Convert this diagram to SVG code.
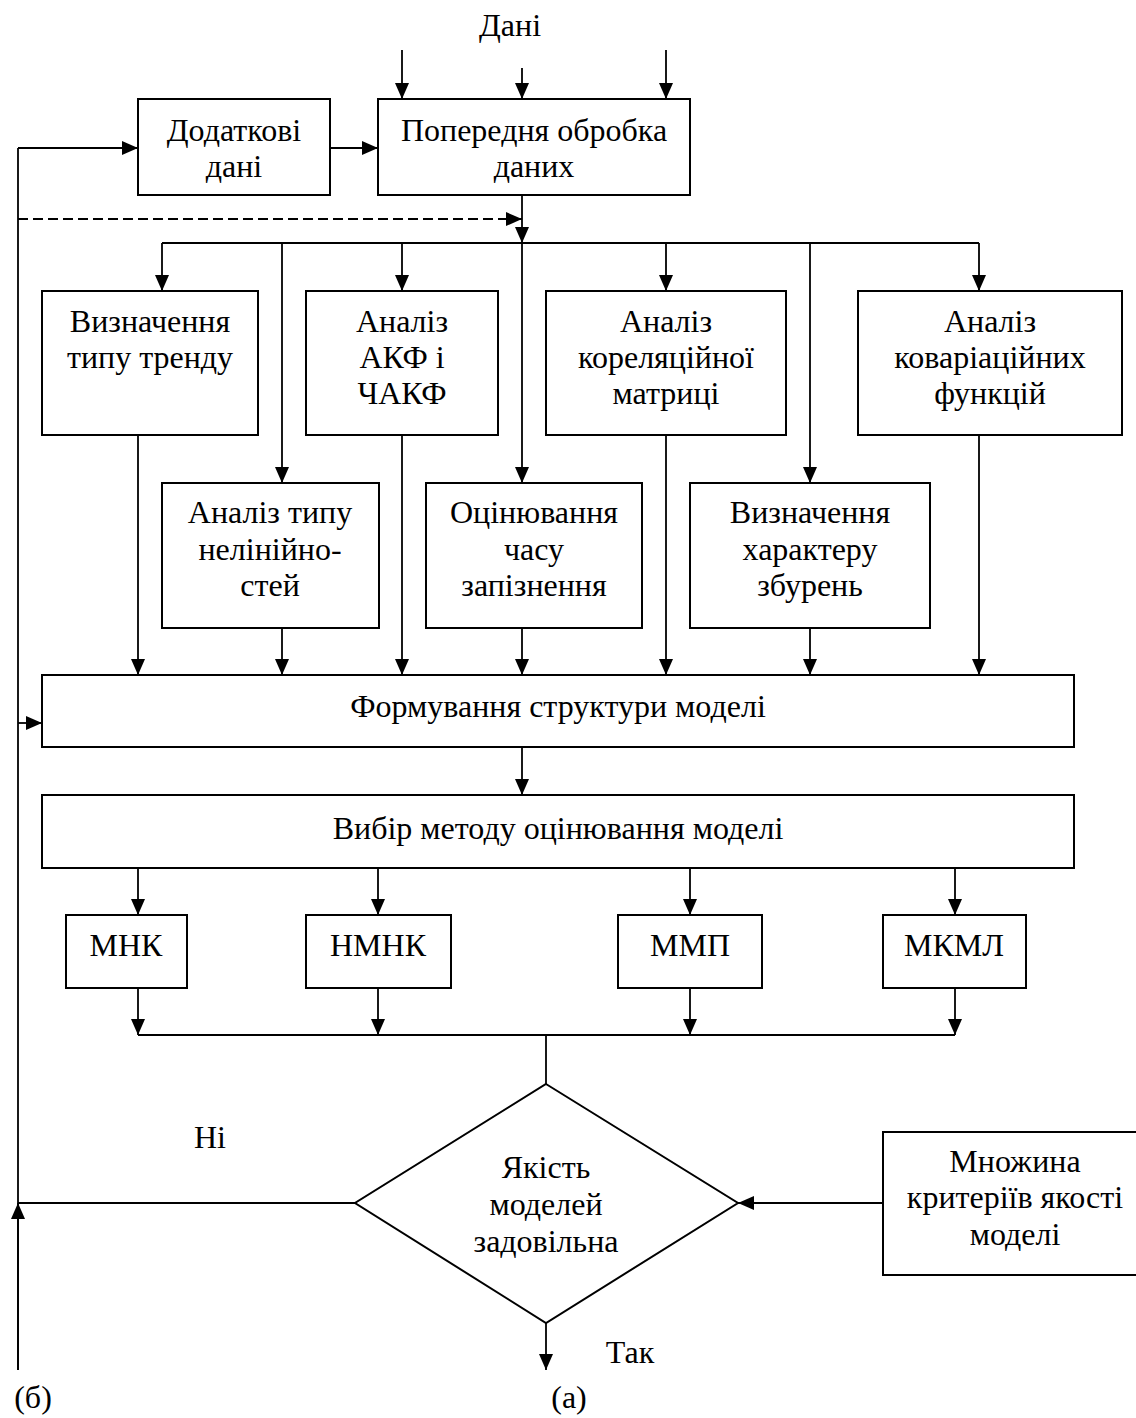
<svg xmlns="http://www.w3.org/2000/svg" width="1136" height="1418" viewBox="0 0 1136 1418">
<style>
.box{fill:#fff;stroke:#000;stroke-width:2}
.ln{fill:none;stroke:#000;stroke-width:1.8}
.ar{fill:none;stroke:#000;stroke-width:1.8;marker-end:url(#ah)}
.t{font-family:"Liberation Serif","Times New Roman",serif;font-size:32px;fill:#000;text-anchor:middle}
</style>
<defs>
<marker id="ah" viewBox="0 0 16 14" refX="16" refY="7" markerWidth="16" markerHeight="14" markerUnits="userSpaceOnUse" orient="auto">
<path d="M0,0 L16,7 L0,14 z" fill="#000"/>
</marker>
</defs>
<rect width="1136" height="1418" fill="#fff"/>

<g id="connectors">
<!-- input data -->
<line class="ar" x1="402" y1="50" x2="402" y2="99"/>
<line class="ar" x1="522" y1="68" x2="522" y2="99"/>
<line class="ar" x1="666" y1="50" x2="666" y2="99"/>
<!-- feedback left line -->
<polyline class="ln" points="18,1370 18,148"/>
<line class="ar" x1="18" y1="1370" x2="18" y2="1203"/>
<line class="ar" x1="18" y1="148" x2="138" y2="148"/>
<line class="ar" x1="330" y1="148" x2="378" y2="148"/>
<line class="ar" x1="18" y1="219" x2="522" y2="219" stroke-dasharray="10,5"/>
<line class="ar" x1="18" y1="723" x2="42" y2="723"/>
<!-- preprocessing to bus -->
<line class="ar" x1="522" y1="195" x2="522" y2="243"/>
<line class="ln" x1="162" y1="243" x2="979" y2="243"/>
<line class="ar" x1="162" y1="243" x2="162" y2="291"/>
<line class="ar" x1="282" y1="243" x2="282" y2="483"/>
<line class="ar" x1="402" y1="243" x2="402" y2="291"/>
<line class="ar" x1="522" y1="243" x2="522" y2="483"/>
<line class="ar" x1="666" y1="243" x2="666" y2="291"/>
<line class="ar" x1="810" y1="243" x2="810" y2="483"/>
<line class="ar" x1="979" y1="243" x2="979" y2="291"/>
<!-- analyses to structure -->
<line class="ar" x1="138" y1="435" x2="138" y2="675"/>
<line class="ar" x1="282" y1="628" x2="282" y2="675"/>
<line class="ar" x1="402" y1="435" x2="402" y2="675"/>
<line class="ar" x1="522" y1="628" x2="522" y2="675"/>
<line class="ar" x1="666" y1="435" x2="666" y2="675"/>
<line class="ar" x1="810" y1="628" x2="810" y2="675"/>
<line class="ar" x1="979" y1="435" x2="979" y2="675"/>
<!-- structure to method choice -->
<line class="ar" x1="522" y1="747" x2="522" y2="795"/>
<!-- methods -->
<line class="ar" x1="138" y1="868" x2="138" y2="915"/>
<line class="ar" x1="378" y1="868" x2="378" y2="915"/>
<line class="ar" x1="690" y1="868" x2="690" y2="915"/>
<line class="ar" x1="955" y1="868" x2="955" y2="915"/>
<line class="ar" x1="138" y1="988" x2="138" y2="1035"/>
<line class="ar" x1="378" y1="988" x2="378" y2="1035"/>
<line class="ar" x1="690" y1="988" x2="690" y2="1035"/>
<line class="ar" x1="955" y1="988" x2="955" y2="1035"/>
<line class="ln" x1="138" y1="1035" x2="955" y2="1035"/>
<line class="ln" x1="546" y1="1035" x2="546" y2="1084"/>
<!-- decision -->
<line class="ar" x1="546" y1="1323" x2="546" y2="1370"/>
<line class="ar" x1="883" y1="1203" x2="738" y2="1203"/>
<line class="ln" x1="355" y1="1203" x2="18" y2="1203"/>
</g>

<text class="t" x="510" y="36">Дані</text>

<g id="n-dodatkovi">
<rect class="box" x="138" y="99" width="192" height="96"/>
<text class="t" x="234" y="141">Додаткові</text>
<text class="t" x="234" y="177">дані</text>
</g>
<g id="n-poperednia">
<rect class="box" x="378" y="99" width="312" height="96"/>
<text class="t" x="534" y="141">Попередня обробка</text>
<text class="t" x="534" y="177">даних</text>
</g>

<g id="n-trend">
<rect class="box" x="42" y="291" width="216" height="144"/>
<text class="t" x="150" y="332">Визначення</text>
<text class="t" x="150" y="368">типу тренду</text>
</g>
<g id="n-akf">
<rect class="box" x="306" y="291" width="192" height="144"/>
<text class="t" x="402" y="332">Аналіз</text>
<text class="t" x="402" y="368">АКФ і</text>
<text class="t" x="402" y="404">ЧАКФ</text>
</g>
<g id="n-korel">
<rect class="box" x="546" y="291" width="240" height="144"/>
<text class="t" x="666" y="332">Аналіз</text>
<text class="t" x="666" y="368">кореляційної</text>
<text class="t" x="666" y="404">матриці</text>
</g>
<g id="n-kovar">
<rect class="box" x="858" y="291" width="264" height="144"/>
<text class="t" x="990" y="332">Аналіз</text>
<text class="t" x="990" y="368">коваріаційних</text>
<text class="t" x="990" y="404">функцій</text>
</g>

<g id="n-neliniinist">
<rect class="box" x="162" y="483" width="217" height="145"/>
<text class="t" x="270" y="523">Аналіз типу</text>
<text class="t" x="270" y="560">нелінійно-</text>
<text class="t" x="270" y="596">стей</text>
</g>
<g id="n-zapiznennia">
<rect class="box" x="426" y="483" width="216" height="145"/>
<text class="t" x="534" y="523">Оцінювання</text>
<text class="t" x="534" y="560">часу</text>
<text class="t" x="534" y="596">запізнення</text>
</g>
<g id="n-zburennia">
<rect class="box" x="690" y="483" width="240" height="145"/>
<text class="t" x="810" y="523">Визначення</text>
<text class="t" x="810" y="560">характеру</text>
<text class="t" x="810" y="596">збурень</text>
</g>

<g id="n-struktura">
<rect class="box" x="42" y="675" width="1032" height="72"/>
<text class="t" x="558" y="717">Формування структури моделі</text>
</g>
<g id="n-vybir">
<rect class="box" x="42" y="795" width="1032" height="73"/>
<text class="t" x="558" y="839">Вибір методу оцінювання моделі</text>
</g>

<g id="n-mnk">
<rect class="box" x="66" y="915" width="121" height="73"/>
<text class="t" x="126" y="956">МНК</text>
</g>
<g id="n-nmnk">
<rect class="box" x="306" y="915" width="145" height="73"/>
<text class="t" x="378" y="956">НМНК</text>
</g>
<g id="n-mmp">
<rect class="box" x="618" y="915" width="144" height="73"/>
<text class="t" x="690" y="956">ММП</text>
</g>
<g id="n-mkml">
<rect class="box" x="883" y="915" width="143" height="73"/>
<text class="t" x="954" y="956">МКМЛ</text>
</g>

<g id="n-yakist">
<polygon class="box" points="546,1084 738,1203 546,1323 355,1203"/>
<text class="t" x="546" y="1178">Якість</text>
<text class="t" x="546" y="1215">моделей</text>
<text class="t" x="546" y="1252">задовільна</text>
</g>
<g id="n-kryterii">
<rect class="box" x="883" y="1132" width="264" height="143"/>
<text class="t" x="1015" y="1172">Множина</text>
<text class="t" x="1015" y="1208">критеріїв якості</text>
<text class="t" x="1015" y="1245">моделі</text>
</g>

<text class="t" x="210" y="1148">Ні</text>
<text class="t" x="630" y="1363">Так</text>
<text class="t" x="33" y="1408">(б)</text>
<text class="t" x="569" y="1408">(а)</text>
</svg>
